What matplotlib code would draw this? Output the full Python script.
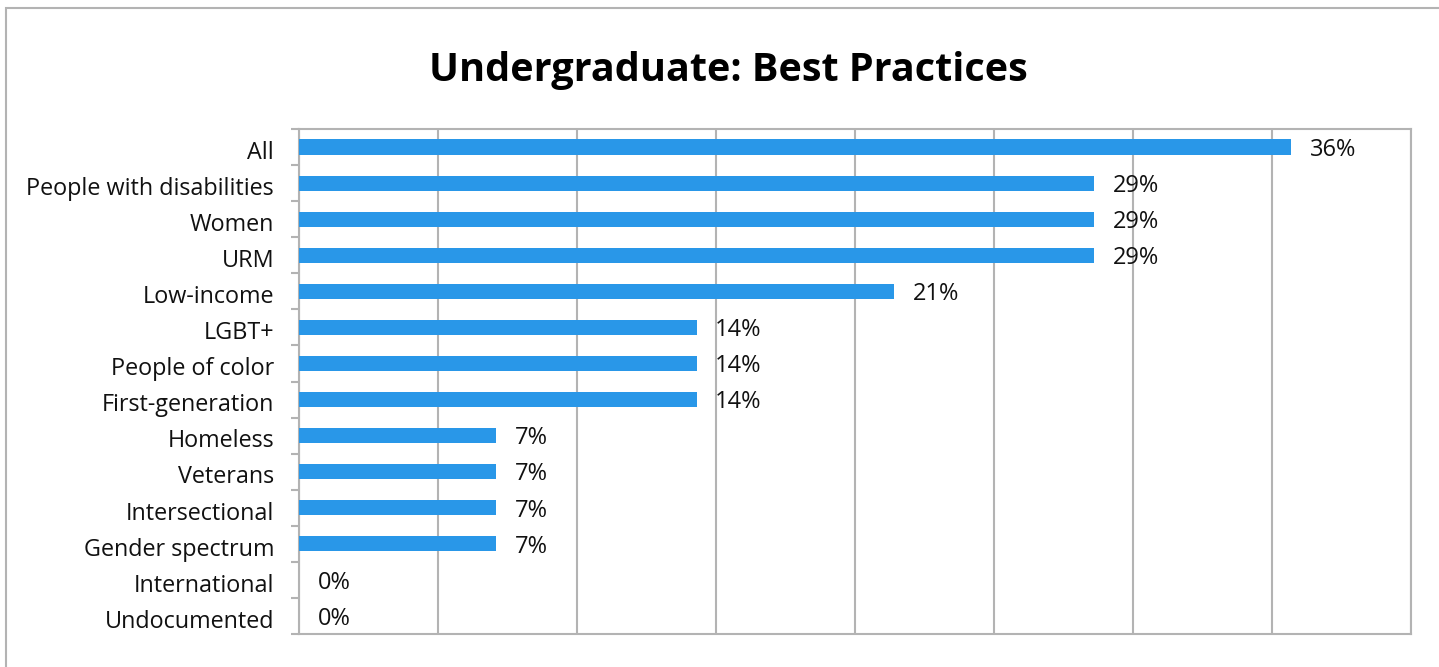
import matplotlib.pyplot as plt
from matplotlib.patches import Rectangle
from matplotlib.transforms import ScaledTranslation

# Data
groups = ['All', 'People with disabilities', 'Women', 'URM', 'Low-income',
          'LGBT+', 'People of color', 'First-generation', 'Homeless',
          'Veterans', 'Intersectional', 'Gender spectrum', 'International',
          'Undocumented']
percent = [35.7, 28.6, 28.6, 28.6, 21.4, 14.3, 14.3, 14.3, 7.1, 7.1, 7.1,
           7.1, 0.0, 0.0]

plt.rcParams['font.family'] = ['Open Sans', 'DejaVu Sans']

fig = plt.figure(figsize=(14.39, 6.67), dpi=100)
ax = fig.add_axes([299 / 1439, 1 - 634 / 667, 1112 / 1439, 505 / 667])

# outer chart frame (only top/left visible)
fig.patches.append(Rectangle((6 / 1439, -0.1), 1.1, 1.1 - 8 / 667,
                             transform=fig.transFigure, fill=False,
                             edgecolor='#b3b3b3', linewidth=1.5))

grey = '#b3b3b3'
ypos = list(range(len(groups)))
ax.barh(ypos, percent, height=0.42, color='#2997e8', zorder=3)

for y, v in zip(ypos, percent):
    ax.annotate('%.0f%%' % v, (v, y), xytext=(13.5, -2),
                textcoords='offset points', va='center', ha='left',
                fontsize=17, color='#111111', zorder=4)

ax.set_xlim(0, 40)
ax.set_ylim(len(groups) - 0.5, -0.5)
ax.set_xticks([5 * i for i in range(9)])
ax.set_xticklabels([])
ax.tick_params(axis='x', length=0)
ax.grid(axis='x', color=grey, linewidth=1.5, zorder=0)

ax.set_yticks(ypos)
ax.set_yticklabels(groups, fontsize=16.8, color='#111111')
ax.tick_params(axis='y', which='major', length=0, pad=18)
ax.set_yticks([i - 0.5 for i in range(len(groups) + 1)], minor=True)
ax.tick_params(axis='y', which='minor', length=6, width=1.5, color=grey)
shift = ScaledTranslation(0, -2 / 72, fig.dpi_scale_trans)
for lbl in ax.get_yticklabels():
    lbl.set_transform(lbl.get_transform() + shift)

for s in ax.spines.values():
    s.set_color(grey)
    s.set_linewidth(1.5)

fig.text(728 / 1439, 1 - 81 / 667, 'Undergraduate: Best Practices',
         ha='center', va='baseline', fontsize=28.5, fontweight='bold')

fig.savefig('out.png', dpi=100)
